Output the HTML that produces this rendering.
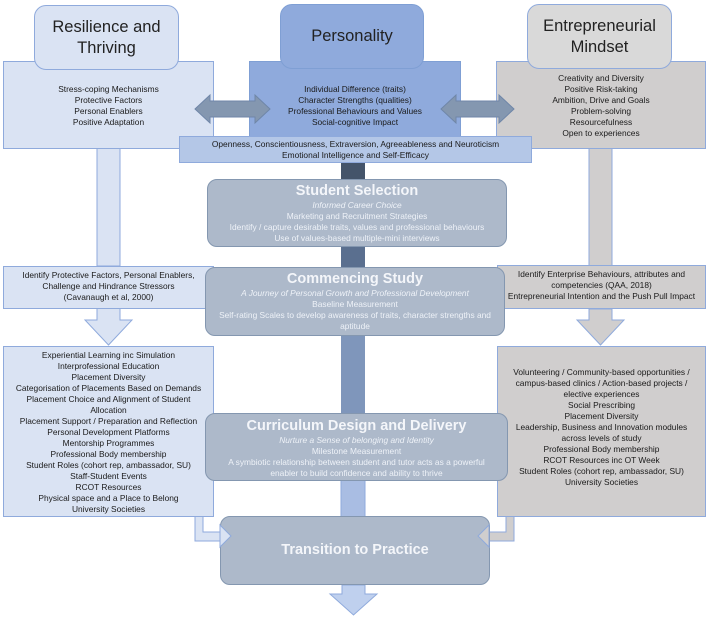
<!DOCTYPE html>
<html><head><meta charset="utf-8"><style>
body{margin:0;width:709px;height:618px;background:#fff;position:relative;overflow:hidden;font-family:"Liberation Sans",sans-serif;}
.b{position:absolute;box-sizing:border-box;text-align:center;font-size:8.4px;line-height:11px;color:#1a1a1a;}
.t{display:flex;align-items:center;justify-content:center;font-size:16.5px;line-height:21px;color:#222;border-radius:12px;}
.w{color:#eef2f8;}
.h{font-weight:bold;font-size:14.5px;line-height:17px;color:#f4f6fa;}
i{font-style:italic;}
</style></head><body>
<svg width="709" height="618" style="position:absolute;left:0;top:0">
<rect x="97" y="148" width="23" height="118" fill="#dae3f3" stroke="#8faadc" stroke-width="1"/>
<polygon points="97,308 120,308 120,320 132,320 108.5,345 85,320 97,320" fill="#dae3f3" stroke="#8faadc"/>
<rect x="589" y="148" width="23" height="118" fill="#d0cece" stroke="#8faadc" stroke-width="1"/>
<polygon points="589,309 612,309 612,320 624,320 600.5,345 577,320 589,320" fill="#d0cece" stroke="#8faadc"/>
<rect x="341" y="162" width="24" height="18" fill="#44546a"/>
<rect x="341" y="247" width="24" height="21" fill="#5a6f8f"/>
<rect x="341" y="335" width="24" height="79" fill="#7f96bb"/>
<rect x="341" y="480" width="24" height="38" fill="#a9bde3" stroke="#8faadc"/>
<polygon points="342,585 365,585 365,594 377,594 353.5,615 330,594 342,594" fill="#bfd0ee" stroke="#8faadc"/>
<polygon points="195,504 203,504 203,532 220,532 220,525 231,536 220,547 220,541 195,541" fill="#dae3f3" stroke="#8faadc"/>
<polygon points="514,504 506,504 506,532 489,532 489,525 478,536 489,547 489,541 514,541" fill="#d0cece" stroke="#8faadc"/>
</svg>

<div class="b" style="left:3px;top:61px;width:211px;height:88px;background:#dae3f3;border:1px solid #8faadc;padding-top:22px;">Stress-coping Mechanisms<br>Protective Factors<br>Personal Enablers<br>Positive Adaptation</div>
<div class="b" style="left:249px;top:61px;width:212px;height:76px;background:#8faadc;border:1px solid #7f9fd4;padding-top:22px;">Individual Difference (traits)<br>Character Strengths (qualities)<br>Professional Behaviours and Values<br>Social-cognitive Impact</div>
<div class="b" style="left:496px;top:61px;width:210px;height:88px;background:#d0cece;border:1px solid #8faadc;padding-top:11px;">Creativity and Diversity<br>Positive Risk-taking<br>Ambition, Drive and Goals<br>Problem-solving<br>Resourcefulness<br>Open to experiences</div>

<div class="b t" style="left:34px;top:5px;width:145px;height:65px;background:#dae3f3;border:1px solid #8faadc;">Resilience and<br>Thriving</div>
<div class="b t" style="left:280px;top:4px;width:144px;height:65px;background:#8faadc;border:1px solid #7f9fd4;">Personality</div>
<div class="b t" style="left:527px;top:4px;width:145px;height:65px;background:#d9d9d9;border:1px solid #8faadc;">Entrepreneurial<br>Mindset</div>

<svg width="709" height="618" style="position:absolute;left:0;top:0">
<polygon points="195,109 210,95 210,101 255,101 255,95 270,109 255,123 255,117 210,117 210,123" fill="#8497b0" stroke="#6f86a8"/>
<polygon points="441,109 456,95 456,101 499,101 499,95 514,109 499,123 499,117 456,117 456,123" fill="#8497b0" stroke="#6f86a8"/>
</svg>

<div class="b" style="left:179px;top:136px;width:353px;height:27px;background:#b4c7e7;border:1px solid #8faadc;padding-top:2px;">Openness, Conscientiousness, Extraversion, Agreeableness and Neuroticism<br>Emotional Intelligence and Self-Efficacy</div>

<div class="b w" style="left:207px;top:179px;width:300px;height:68px;background:#adb9ca;border:1px solid #8497b0;border-radius:10px;padding-top:3px;"><div class="h">Student Selection</div><i>Informed Career Choice</i><br>Marketing and Recruitment Strategies<br>Identify / capture desirable traits, values and professional behaviours<br>Use of values-based multiple-mini interviews</div>

<div class="b" style="left:3px;top:266px;width:211px;height:43px;background:#dae3f3;border:1px solid #8faadc;padding-top:3px;">Identify Protective Factors, Personal Enablers,<br>Challenge and Hindrance Stressors<br>(Cavanaugh et al, 2000)</div>
<div class="b" style="left:497px;top:265px;width:209px;height:44px;background:#d0cece;border:1px solid #8faadc;padding-top:3px;">Identify Enterprise Behaviours, attributes and<br>competencies (QAA, 2018)<br>Entrepreneurial Intention and the Push Pull Impact</div>

<div class="b w" style="left:205px;top:267px;width:300px;height:69px;background:#adb9ca;border:1px solid #8497b0;border-radius:10px;padding-top:3px;"><div class="h">Commencing Study</div><i>A Journey of Personal Growth and Professional Development</i><br>Baseline Measurement<br>Self-rating Scales to develop awareness of traits, character strengths and<br>aptitude</div>

<div class="b" style="left:3px;top:346px;width:211px;height:171px;background:#dae3f3;border:1px solid #8faadc;padding-top:3px;">Experiential Learning inc Simulation<br>Interprofessional Education<br>Placement Diversity<br>Categorisation of Placements Based on Demands<br>Placement Choice and Alignment of Student<br>Allocation<br>Placement Support / Preparation and Reflection<br>Personal Development Platforms<br>Mentorship Programmes<br>Professional Body membership<br>Student Roles (cohort rep, ambassador, SU)<br>Staff-Student Events<br>RCOT Resources<br>Physical space and a Place to Belong<br>University Societies</div>
<div class="b" style="left:497px;top:346px;width:209px;height:171px;background:#d0cece;border:1px solid #8faadc;padding-top:20px;">Volunteering / Community-based opportunities /<br>campus-based clinics / Action-based projects /<br>elective experiences<br>Social Prescribing<br>Placement Diversity<br>Leadership, Business and Innovation modules<br>across levels of study<br>Professional Body membership<br>RCOT Resources inc OT Week<br>Student Roles (cohort rep, ambassador, SU)<br>University Societies</div>

<div class="b w" style="left:205px;top:413px;width:303px;height:68px;background:#adb9ca;border:1px solid #8497b0;border-radius:10px;padding-top:4px;"><div class="h">Curriculum Design and Delivery</div><i>Nurture a Sense of belonging and Identity</i><br>Milestone Measurement<br>A symbiotic relationship between student and tutor acts as a powerful<br>enabler to build confidence and ability to thrive</div>

<div class="b w" style="left:220px;top:516px;width:270px;height:69px;background:#adb9ca;border:1px solid #8497b0;border-radius:10px;display:flex;align-items:center;justify-content:center;"><div class="h">Transition to Practice</div></div>

<svg width="709" height="618" style="position:absolute;left:0;top:0">
<polygon points="220,525 231,536 220,547" fill="#dae3f3" stroke="#8faadc"/>
<polygon points="489,525 478,536 489,547" fill="#d0cece" stroke="#8faadc"/>
</svg>
</body></html>
